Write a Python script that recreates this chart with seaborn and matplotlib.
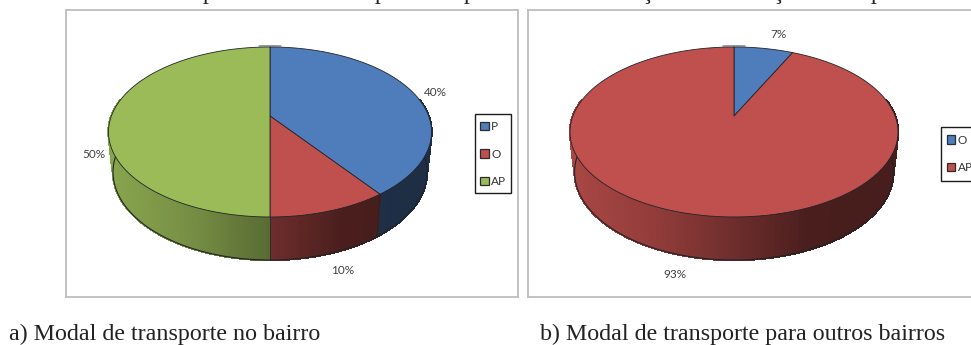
import numpy as np
import matplotlib
matplotlib.use("Agg")
import matplotlib.pyplot as plt
from matplotlib.patches import Patch, Rectangle
import seaborn as sns

# ---- data ----
labels_a = ["P", "O", "AP"]
values_a = [40, 10, 50]
labels_b = ["O", "AP"]
values_b = [7, 93]
colors_a = ["#4f7cba", "#c0504d", "#9bbb59"]
colors_b = ["#4f7cba", "#c0504d"]
caption_a = "a) Modal de transporte no bairro"
caption_b = "b) Modal de transporte para outros bairros"

W, H = 971, 345
sns.set_theme(style="white", rc={"axes.linewidth": 1.3, "axes.edgecolor": "#bdbdbd"})
plt.rcParams["font.family"] = ["Lato", "DejaVu Sans"]
fig = plt.figure(figsize=(W / 100, H / 100), dpi=100, facecolor="white")
SERIF = ["Liberation Serif", "DejaVu Serif"]
TXT = "#404040"
EDGE = "#20242a"
LABEL_SIZE = 8.5

K, A = 0.188, 82.0      # perspective of the tilted disc
BASE = dict(sx=0.972, sy=1.035, dy=39.5)   # lower rim of the disc wall


def project(theta, apex, rx, sx=1.0, sy=1.0, dy=0.0):
    """Clockwise angle from 12 o'clock on the disc -> pixel position."""
    X, Y = np.sin(theta), np.cos(theta)
    d = 1 + K * Y
    c = rx * np.sqrt(1 - K ** 2)
    return apex[0] + sx * c * X / d, apex[1] + dy - sy * A * Y / d


def shade(color, u):
    f = np.interp(u, [-1, -0.5, 0, 0.45, 1], [0.88, 0.76, 0.57, 0.38, 0.37])
    return tuple(np.array(matplotlib.colors.to_rgb(color)) * f)


def pie3d(ax, values, colors, apex, rx):
    fr = np.cumsum([0] + list(values)) / np.sum(values)
    edges = 2 * np.pi * fr
    # back lip of the disc peeking out over the top rim
    ox, oy = project(np.linspace(-0.085, 0.085, 5), apex, rx, dy=-1.2)
    ax.plot(ox, oy, color="#9a9a9a", lw=1.2, zorder=1, solid_capstyle="butt")
    # side wall: thin shaded strips along the rim, front part only
    for a0, a1, col in zip(edges[:-1], edges[1:], colors):
        th = np.linspace(a0, a1, max(int((a1 - a0) * 70), 2) + 1)
        for t0, t1 in zip(th[:-1], th[1:]):
            if np.cos((t0 + t1) / 2) > 0.2:
                continue
            x0, y0 = project(t0, apex, rx)
            x1, y1 = project(t1, apex, rx)
            x2, y2 = project(t1, apex, rx, **BASE)
            x3, y3 = project(t0, apex, rx, **BASE)
            u = ((x0 + x1) / 2 - apex[0]) / rx
            c = shade(col, u)
            ax.fill([x0, x1, x2, x3], [y0, y1, y2, y3], facecolor=c, edgecolor=c,
                    lw=1.0, antialiased=False, zorder=2)
    # outline of the wall bottom and slice seams
    lim = np.arccos(0.2)
    th = np.linspace(lim, 2 * np.pi - lim, 240)
    bx, by = project(th, apex, rx, **BASE)
    ax.plot(bx, by, color=EDGE, lw=0.8, zorder=3)
    for a in list(edges) + [lim, 2 * np.pi - lim]:
        if np.cos(a) < 0.21:
            x0, y0 = project(a, apex, rx)
            x1, y1 = project(a, apex, rx, **BASE)
            ax.plot([x0, x1], [y0, y1], color=EDGE, lw=0.6, zorder=3)
    # top face
    for a0, a1, col in zip(edges[:-1], edges[1:], colors):
        th = np.linspace(a0, a1, 160)
        x, y = project(th, apex, rx)
        ax.fill(np.r_[apex[0], x], np.r_[apex[1], y], facecolor=col, edgecolor=EDGE, lw=0.6,
                joinstyle="round", zorder=4)


def panel(x0, x1, y0, y1):
    ax = fig.add_axes([x0 / W, 1 - y1 / H, (x1 - x0) / W, (y1 - y0) / H])
    ax.set_xlim(x0, x1)
    ax.set_ylim(y1, y0)
    ax.set_xticks([])
    ax.set_yticks([])
    for s in ax.spines.values():
        s.set_visible(True)
    return ax


def legend(ax, labels, colors, box, anchor, spacing):
    ax.add_patch(Rectangle((box[0], box[1]), box[2], box[3], facecolor="white",
                           edgecolor="#1c1c1c", lw=1.0, zorder=4.5))
    handles = [Patch(facecolor=c, edgecolor="#2b2b2b", lw=0.9) for c in colors]
    ax.legend(handles, labels, loc="upper left", bbox_to_anchor=anchor,
              bbox_transform=ax.transData, borderaxespad=0, fontsize=LABEL_SIZE,
              handlelength=0.76, handleheight=0.76, handletextpad=0.2,
              labelspacing=spacing, borderpad=0, frameon=False, labelcolor="#333333")


# ---- left panel ----
ax1 = panel(66, 518, 10, 297)
pie3d(ax1, values_a, colors_a, (270, 116), 161.5)
legend(ax1, labels_a, colors_a, (475, 114, 35.5, 79), (480, 121), 1.4)
for v, (x, y) in zip(values_a, [(435.5, 92.5), (343, 271), (93.5, 155)]):
    ax1.text(x, y, f"{v}%", ha="center", va="center", fontsize=LABEL_SIZE, color=TXT)

# ---- right panel ----
ax2 = panel(528, 972.5, 10, 297)
ax2.spines["right"].set_visible(False)
pie3d(ax2, values_b, colors_b, (734, 116), 164)
legend(ax2, labels_b, colors_b, (941, 127, 60, 53.5), (946.5, 134.5), 1.4)
for v, (x, y) in zip(values_b, [(778, 35), (675, 274)]):
    ax2.text(x, y, f"{v}%", ha="center", va="center", fontsize=LABEL_SIZE, color=TXT)

# ---- captions ----
fig.text(9 / W, 1 - 340 / H, caption_a, family=SERIF, fontsize=17.3, color="#222222", ha="left", va="baseline")
fig.text(540 / W, 1 - 340 / H, caption_b, family=SERIF, fontsize=17.3, color="#222222", ha="left", va="baseline")

# tails of the body line cropped by the top of the picture
for ch, x in [("p", 209), ("p", 381), ("p", 470), ("ç", 646), ("ç", 777), ("p", 877)]:
    fig.text(x / W, 1 + 1.5 / H, ch, family=SERIF, fontsize=17.3, color="#222222", ha="center", va="baseline")

fig.savefig("out.png", dpi=100, facecolor="white")
